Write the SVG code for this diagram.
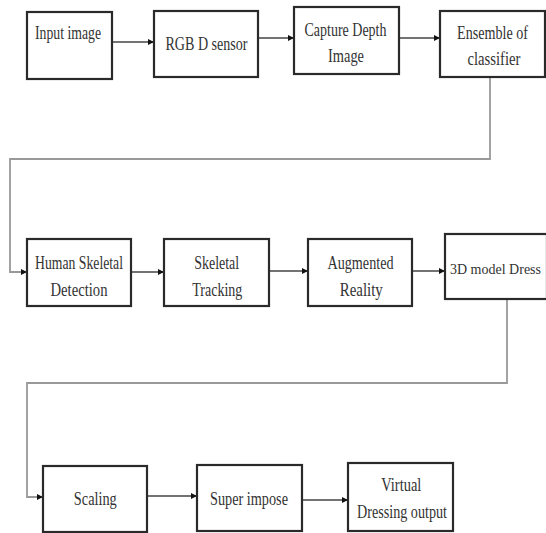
<svg xmlns="http://www.w3.org/2000/svg" width="546" height="533" viewBox="0 0 546 533">
<style>
.box{fill:#fff;stroke:#2a2a2a;stroke-width:2.2}
.t{font-family:'Liberation Serif','Times New Roman','DejaVu Serif',serif;font-size:18px;fill:#333;text-anchor:middle}
.a{fill:none;stroke:#444;stroke-width:1.6}
.r{fill:none;stroke:#999;stroke-width:1.8}
</style>
<defs>
<marker id="ah" markerUnits="userSpaceOnUse" markerWidth="8" markerHeight="8" refX="6" refY="4" orient="auto">
<path d="M0,1 L6,4 L0,7 Z" fill="#111"/>
</marker>
</defs>
<rect width="546" height="533" fill="#fff"/>
<g id="connectors">
<line class="a" x1="112" y1="42" x2="154" y2="42" marker-end="url(#ah)"/>
<line class="a" x1="258" y1="38" x2="294" y2="38" marker-end="url(#ah)"/>
<line class="a" x1="399" y1="38" x2="440" y2="38" marker-end="url(#ah)"/>
<path class="r" d="M490,77 V159 H10 V272 H27" marker-end="url(#ah)"/>
<line class="a" x1="131" y1="272" x2="164" y2="272" marker-end="url(#ah)"/>
<line class="a" x1="269" y1="271" x2="308" y2="271" marker-end="url(#ah)"/>
<line class="a" x1="412" y1="271" x2="445" y2="271" marker-end="url(#ah)"/>
<path class="r" d="M507,299 V383 H27 V497 H43" marker-end="url(#ah)"/>
<line class="a" x1="147" y1="496" x2="197" y2="496" marker-end="url(#ah)"/>
<line class="a" x1="302" y1="500" x2="348" y2="500" marker-end="url(#ah)"/>
</g>
<g id="n1"><rect class="box" x="27" y="12" width="85" height="67"/><text class="t" x="68" y="39" textLength="66" lengthAdjust="spacingAndGlyphs">Input image</text></g>
<g id="n2"><rect class="box" x="154" y="11" width="104" height="66"/><text class="t" x="206.5" y="50" textLength="82" lengthAdjust="spacingAndGlyphs">RGB D sensor</text></g>
<g id="n3"><rect class="box" x="294" y="7" width="105" height="67"/><text class="t" x="345.5" y="36" textLength="82" lengthAdjust="spacingAndGlyphs">Capture Depth</text><text class="t" x="346" y="62" textLength="36" lengthAdjust="spacingAndGlyphs">Image</text></g>
<g id="n4"><rect class="box" x="440" y="11" width="105" height="66"/><text class="t" x="492.5" y="39" textLength="71" lengthAdjust="spacingAndGlyphs">Ensemble of</text><text class="t" x="494" y="65" textLength="53" lengthAdjust="spacingAndGlyphs">classifier</text></g>
<g id="n5"><rect class="box" x="27" y="239" width="104" height="67"/><text class="t" x="79" y="269" textLength="88" lengthAdjust="spacingAndGlyphs">Human Skeletal</text><text class="t" x="79" y="296" textLength="57" lengthAdjust="spacingAndGlyphs">Detection</text></g>
<g id="n6"><rect class="box" x="164" y="239" width="105" height="67"/><text class="t" x="216.7" y="269" textLength="45" lengthAdjust="spacingAndGlyphs">Skeletal</text><text class="t" x="217.3" y="296" textLength="50" lengthAdjust="spacingAndGlyphs">Tracking</text></g>
<g id="n7"><rect class="box" x="308" y="239" width="104" height="67"/><text class="t" x="360.5" y="269" textLength="66" lengthAdjust="spacingAndGlyphs">Augmented</text><text class="t" x="361.3" y="296" textLength="43" lengthAdjust="spacingAndGlyphs">Reality</text></g>
<g id="n8"><rect class="box" x="445" y="234" width="102" height="65"/><text class="t" x="495.5" y="274" style="font-size:14px">3D model Dress</text></g>
<g id="n9"><rect class="box" x="43" y="466" width="104" height="66"/><text class="t" x="95.3" y="505" textLength="43" lengthAdjust="spacingAndGlyphs">Scaling</text></g>
<g id="n10"><rect class="box" x="197" y="465" width="105" height="66"/><text class="t" x="249" y="505" textLength="78" lengthAdjust="spacingAndGlyphs">Super impose</text></g>
<g id="n11"><rect class="box" x="348" y="463" width="105" height="68"/><text class="t" x="401.3" y="491" textLength="40" lengthAdjust="spacingAndGlyphs">Virtual</text><text class="t" x="402" y="518" textLength="90" lengthAdjust="spacingAndGlyphs">Dressing output</text></g>
</svg>
